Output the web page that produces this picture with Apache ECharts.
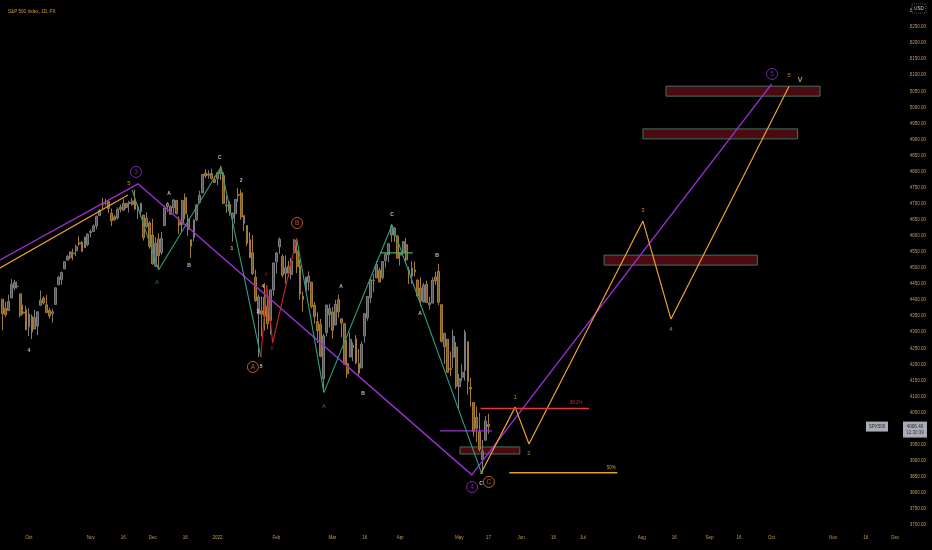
<!DOCTYPE html>
<html><head><meta charset="utf-8">
<script src="https://cdn.jsdelivr.net/npm/echarts@6/dist/echarts.min.js"></script>
<style>html,body{margin:0;padding:0;background:#000}#c{width:932px;height:550px}</style>
</head><body><div id="c"></div>
<script>
// Daily bars from Sep 20, 2021 to May 16, 2022: [open, high, low, close]
const ohlc = [
[4402.95,4402.95,4305.91,4357.73],[4374.45,4394.87,4347.96,4354.19],[4367.43,4416.75,4367.43,4395.64],[4406.75,4465.40,4406.75,4448.98],[4438.04,4463.12,4430.27,4455.48],
[4442.12,4457.30,4436.19,4443.11],[4419.54,4419.54,4346.33,4352.63],[4362.41,4385.57,4355.08,4359.46],[4370.67,4382.55,4306.24,4307.54],[4317.16,4375.19,4288.52,4357.04],
[4348.84,4355.51,4278.94,4300.46],[4309.87,4369.23,4309.87,4345.72],[4319.57,4365.57,4290.49,4363.55],[4383.73,4429.97,4383.73,4399.76],[4406.51,4412.02,4386.22,4391.34],
[4385.44,4415.88,4360.59,4361.19],[4368.31,4374.89,4342.09,4350.65],[4358.01,4372.87,4329.92,4363.80],[4386.75,4439.73,4386.75,4438.26],[4447.69,4475.82,4447.69,4471.37],
[4463.72,4488.75,4447.47,4486.46],[4497.34,4520.40,4496.41,4519.63],[4524.42,4540.87,4524.40,4536.19],[4532.24,4551.44,4526.89,4549.78],[4546.12,4559.67,4524.00,4544.90],
[4553.69,4572.62,4537.36,4566.48],[4578.69,4598.53,4569.17,4574.79],[4580.22,4584.57,4551.66,4551.68],[4562.84,4597.55,4562.84,4596.42],[4572.87,4608.08,4567.59,4605.38],
[4610.62,4620.34,4595.06,4613.67],[4613.34,4635.15,4613.34,4630.65],[4630.65,4663.46,4621.19,4660.57],[4662.93,4683.00,4662.59,4680.06],[4699.26,4718.50,4681.32,4697.53],
[4701.48,4714.92,4694.39,4701.70],[4707.25,4708.53,4670.87,4685.25],[4670.26,4684.85,4630.86,4646.71],[4659.39,4664.55,4648.31,4649.27],[4655.24,4688.47,4650.77,4682.85],
[4689.30,4697.42,4672.86,4682.80],[4679.42,4714.95,4679.42,4700.90],[4701.50,4701.50,4684.41,4688.67],[4700.72,4708.80,4672.78,4704.54],[4708.64,4717.75,4694.22,4697.96],
[4712.00,4743.83,4682.17,4682.94],[4678.48,4699.39,4652.66,4690.70],[4675.78,4702.87,4659.89,4701.46],[4664.63,4664.63,4585.43,4594.62],[4628.75,4672.95,4625.26,4655.27],
[4640.25,4646.02,4560.00,4567.00],[4602.82,4652.94,4510.27,4513.04],[4504.73,4595.46,4504.73,4577.10],[4589.49,4608.03,4495.12,4538.43],[4548.37,4612.60,4540.51,4591.67],
[4631.97,4694.04,4631.97,4686.75],[4690.86,4705.06,4674.52,4701.21],[4691.00,4695.26,4665.98,4667.45],[4687.64,4713.57,4670.24,4712.02],[4710.30,4710.30,4667.60,4668.97],
[4642.99,4660.47,4606.52,4634.09],[4636.46,4712.60,4611.22,4709.85],[4719.13,4731.99,4651.89,4668.67],[4652.50,4666.70,4600.22,4620.64],[4587.90,4587.90,4531.10,4568.02],
[4594.96,4651.14,4583.16,4649.23],[4650.36,4697.67,4645.53,4696.56],[4703.96,4740.74,4703.96,4725.79],[4733.99,4791.49,4733.99,4791.19],[4795.49,4807.02,4780.04,4786.35],
[4788.64,4804.06,4778.08,4793.06],[4794.23,4808.93,4775.33,4778.73],[4775.21,4786.83,4765.75,4766.18],[4778.14,4796.64,4758.17,4796.56],[4804.51,4818.62,4774.27,4793.54],
[4787.99,4797.70,4699.44,4700.58],[4693.39,4725.01,4671.26,4696.05],[4697.66,4707.95,4662.74,4677.03],[4655.34,4673.02,4582.24,4670.29],[4669.14,4714.13,4638.27,4713.07],
[4728.59,4748.83,4706.71,4726.35],[4733.56,4744.13,4650.29,4659.03],[4637.99,4665.13,4614.75,4662.85],[4632.24,4632.24,4568.70,4577.11],[4588.03,4611.55,4530.20,4532.76],
[4547.35,4602.11,4477.95,4482.73],[4471.38,4494.52,4395.34,4397.94],[4356.32,4417.35,4222.62,4410.13],[4366.64,4411.01,4287.11,4356.45],[4408.43,4453.23,4304.80,4349.93],
[4380.58,4428.74,4309.50,4326.51],[4336.19,4432.72,4292.46,4431.85],[4431.79,4516.89,4414.02,4515.55],[4519.57,4550.49,4483.53,4546.54],[4566.39,4595.31,4544.32,4589.38],
[4535.41,4542.88,4470.39,4477.44],[4482.79,4539.66,4451.50,4500.53],[4505.75,4521.86,4471.47,4483.87],[4480.02,4531.32,4465.40,4521.54],[4547.00,4590.03,4547.00,4587.18],
[4553.24,4588.92,4484.31,4504.08],[4506.27,4526.33,4401.41,4418.64],[4412.61,4426.22,4364.84,4401.67],[4429.28,4472.77,4429.28,4471.07],[4455.75,4489.55,4429.68,4475.01],
[4456.06,4456.06,4373.81,4380.26],[4384.57,4394.60,4327.22,4348.87],[4332.74,4362.12,4267.11,4304.76],[4324.93,4341.51,4221.51,4225.50],[4155.77,4294.73,4114.65,4288.70],
[4298.38,4385.34,4286.83,4384.65],[4354.17,4388.84,4315.12,4373.94],[4363.14,4378.45,4279.54,4306.26],[4322.56,4401.48,4322.56,4386.54],[4401.31,4416.78,4345.56,4363.49],
[4342.12,4342.12,4284.98,4328.87],[4327.01,4327.01,4199.85,4201.09],[4202.66,4276.94,4157.87,4170.70],[4223.10,4299.40,4223.10,4277.88],[4252.55,4268.28,4209.80,4259.52],
[4279.50,4291.01,4200.49,4204.31],[4202.75,4247.57,4161.72,4173.11],[4188.82,4271.05,4187.90,4262.45],[4288.14,4357.86,4267.92,4357.86],[4345.11,4412.67,4335.65,4411.67],
[4407.34,4465.40,4390.57,4463.12],[4462.40,4481.75,4424.30,4461.18],[4469.10,4522.00,4469.10,4511.61],[4493.10,4501.07,4455.81,4456.24],[4469.98,4520.58,4465.17,4520.16],
[4522.91,4546.03,4501.07,4543.06],[4541.09,4575.65,4517.69,4575.52],[4602.86,4637.30,4581.18,4631.60],[4624.20,4627.77,4581.32,4602.45],[4599.02,4603.07,4530.41,4530.41],
[4540.32,4548.70,4507.57,4545.86],[4547.97,4583.50,4539.21,4582.64],[4572.45,4593.45,4514.17,4525.12],[4494.17,4503.94,4450.04,4481.15],[4474.65,4521.16,4450.30,4500.21],
[4494.15,4520.41,4474.60,4488.28],[4462.64,4464.35,4408.38,4412.53],[4437.59,4471.00,4381.34,4397.45],[4394.30,4453.92,4392.70,4446.59],[4449.12,4460.46,4390.77,4392.59],
[4385.63,4410.31,4370.30,4391.69],[4390.63,4471.03,4390.63,4462.21],[4472.26,4488.29,4448.76,4459.45],[4489.17,4512.94,4384.47,4393.66],[4385.83,4385.83,4267.62,4271.78],
[4255.34,4299.02,4200.82,4296.12],[4278.14,4278.14,4175.04,4175.20],[4186.52,4240.71,4162.90,4183.96],[4222.58,4308.45,4188.63,4287.50],[4253.75,4269.68,4124.28,4131.93],
[4130.61,4169.81,4062.51,4155.38],[4159.78,4200.10,4147.08,4175.48],[4181.18,4307.66,4148.91,4300.17],[4270.43,4270.43,4106.01,4146.87],[4128.17,4157.69,4067.91,4123.34],
[4081.27,4081.27,3975.48,3991.24],[4035.18,4068.82,3958.17,4001.05],[3990.08,4049.09,3928.82,3935.18],[3903.95,3964.80,3858.87,3930.08],[3963.90,4038.88,3963.90,4023.89],
[4013.02,4046.46,3983.99,4006.40]
];
const slotCount = 316; // trading-day slots from Sep 20, 2021 to end of Dec 2022
const xLabelIdx  = [9,30,41,51,62,73,93,112,123,135,155,165,176,187,197,217,228,240,250,261,282,293,303];
const xLabelText = ['Oct','Nov','16','Dec','16','2022','Feb','Mar','16','Apr','May','17','Jun','16','Jul','Aug','16','Sep','16','Oct','Nov','16','Dec'];
const yMin = 3700, yMax = 5300, yStep = 50;

// Wave drawings: [bar position, price]
const purpleWave   = [[-0.84,4525],[46.0,4762],[159.3,3856],[261.1,5073]];
const purpleLevel  = [[148.5,3993],[166.2,3993]];
const orangeLeft   = [[-0.84,4500],[42.6,4727]];
const orangeWave   = [[162.3,3859],[174.0,4067],[178.7,3952],[217.4,4646],[226.9,4341],[267.0,5066]];
const tealWave1    = [[44.0,4743],[53.0,4494],[74.2,4815],[87.7,4223]];
const tealWave2    = [[99.9,4590],[109.1,4112],[132.2,4634],[162.7,3859]];
const redWave      = [[87.7,4223],[89.7,4447],[91.7,4267],[99.9,4593]];
const greenLevel   = [[128.2,4547],[139.3,4547]];
const fib382       = [[162.3,4063],[199.1,4063]];
const fib50        = [[172.0,3863],[208.7,3863]];
// Zones: [from bar, to bar, top price, bottom price]
const zones = [[225.2,277.5,5066,5035],[217.4,269.9,4933,4902],[204.2,256.2,4540,4509],[155.3,175.6,3943,3921]];

// Labels: [bar position, price, text]
const whiteLabels = [[9.0,4242,'4'],[56.5,4733,'A'],[63.3,4506,'B'],[73.8,4845,'C'],[81.0,4771,'2'],[77.9,4559,'1'],
  [86.7,4363,'3'],[88.4,4441,'4'],[87.8,4192,'5'],[114.9,4441,'A'],[122.4,4108,'B'],[132.2,4665,'C'],
  [147.5,4537,'B'],[141.7,4357,'A'],[162.4,3828,'C']];
const tealLabels = [[52.5,4456,'A'],[109.1,4070,'A']];
const redLabels = [[89.5,4478,'A'],[91.5,4248,'B']];
const orangeCircled = [[85.0,4192,'A'],[100.0,4640,'B'],[165.1,3834,'C']];
const purpleCircled = [[45.3,4799,'3'],[159.4,3818,'4'],[261.2,5104,'5']];
const orangeWaveLabels = [[42.9,4762,'5'],[174.0,4098,'1'],[178.7,3924,'2'],[217.4,4681,'3'],[226.9,4310,'4'],[267.0,5101,'5']];
const yellowLabels = [[270.7,5085,'V']];
const fibRedLabels = [[194.7,4080,'38.2%']];
const fibGoldLabels = [[206.6,3877,'50%']];

const slots = Array.from({length: slotCount}, (_, i) => String(i));
const labelMap = new Map(xLabelIdx.map((k, j) => [k, xLabelText[j]]));
const FONT = 'Liberation Sans, Arial, sans-serif';
const AXC = '#c99b4e';
const PURPLE = '#9a2fd0';

function line(data, color, width) {
  return { type: 'line', xAxisIndex: 1, data, symbol: 'none', silent: true, animation: false,
    lineStyle: { color, width: width || 1.2 }, z: 3 };
}
function labels(data, color, size, bold) {
  return { type: 'scatter', xAxisIndex: 1, data, symbol: 'circle', symbolSize: 1, silent: true, animation: false,
    itemStyle: { color: 'rgba(0,0,0,0)' }, z: 5,
    label: { show: true, position: 'inside', formatter: p => p.value[2], color: color, fontSize: size || 5,
      fontWeight: bold ? 'bold' : 'normal', fontFamily: FONT } };
}
function circled(data, color) {
  return { type: 'scatter', xAxisIndex: 1, data, symbol: 'circle', symbolSize: 11, silent: true, animation: false,
    itemStyle: { color: 'rgba(0,0,0,0)', borderColor: color, borderWidth: 1 }, z: 5,
    label: { show: true, position: 'inside', formatter: p => p.value[2], color: color, fontSize: 6.5, fontFamily: FONT } };
}

const chart = echarts.init(document.getElementById('c'), null, { renderer: 'canvas' });
const purpleSeries = line(purpleWave, PURPLE, 1.4);
purpleSeries.markArea = { silent: true, z: 1,
  itemStyle: { color: '#4a0a10', borderColor: '#3f7462', borderWidth: 1 },
  data: zones.map(z => [{ xAxis: z[0], yAxis: z[2] }, { xAxis: z[1], yAxis: z[3] }]) };

chart.setOption({
  backgroundColor: '#000',
  animation: false,
  title: { text: 'S&P 500 Index, 1D, FX', left: 3, top: 4,
    textStyle: { color: '#d99b3c', fontSize: 4.6, fontWeight: 'normal', fontFamily: FONT } },
  grid: { left: 1, right: 0, top: 11, bottom: 25 },
  xAxis: [
    { type: 'category', data: slots, boundaryGap: true,
      axisLine: { show: false }, axisTick: { show: false }, splitLine: { show: false },
      axisLabel: { interval: (i) => labelMap.has(i), formatter: (v, i) => labelMap.get(i) || '',
        color: AXC, fontSize: 4.5, margin: 10, fontFamily: FONT } },
    { type: 'value', min: -0.5, max: slotCount - 0.5, show: false }
  ],
  yAxis: { type: 'value', position: 'right', min: yMin, max: yMax, interval: yStep,
    axisLine: { show: false }, axisTick: { show: false }, splitLine: { show: false },
    axisLabel: { inside: true, margin: 6, color: AXC, fontSize: 4.5, fontFamily: FONT,
      formatter: v => v.toFixed(2) } },
  series: [
    { type: 'candlestick', xAxisIndex: 0, barWidth: '80%', silent: true, animation: false, z: 2,
      data: ohlc.map(r => [r[0], r[3], r[2], r[1]]),
      itemStyle: { color: '#555555', color0: '#7a5a22', borderColor: '#7c7c7c', borderColor0: '#a57a33', borderWidth: 1 } },
    purpleSeries,
    line(purpleLevel, PURPLE, 1.2),
    line(orangeLeft, '#f0a030', 1.2),
    line(orangeWave, '#f0a030', 1.2),
    line(tealWave1, '#2f9e83', 1.1),
    line(tealWave2, '#2f9e83', 1.1),
    line(redWave, '#c62828', 1.1),
    line(greenLevel, '#4caf50', 1.3),
    line(fib382, '#e53935', 1.5),
    line(fib50, '#e0a020', 1.5),
    labels(whiteLabels, '#e8e8e8', 5, true),
    labels(tealLabels, '#2f9e83', 5.5),
    labels(redLabels, '#b71c1c', 5),
    circled(orangeCircled, '#ec6f2d'),
    circled(purpleCircled, PURPLE),
    labels(orangeWaveLabels, '#f0a030', 6),
    labels(yellowLabels, '#e8d84a', 7, true),
    labels(fibRedLabels, '#e53935', 4.5),
    labels(fibGoldLabels, '#e8c547', 4.5)
  ]
});

// price tag at the last close
const last = ohlc[ohlc.length - 1][3];
const py = chart.convertToPixel({ yAxisIndex: 0 }, last);
chart.setOption({ graphic: [
  { type: 'rect', shape: { x: 866, y: py - 5, width: 22, height: 10 }, style: { fill: '#a9abb5' }, z: 20 },
  { type: 'text', x: 877, y: py, style: { text: 'SPX500', fill: '#2b2b2b', fontSize: 4.5, fontFamily: FONT, align: 'center', verticalAlign: 'middle' }, z: 21 },
  { type: 'rect', shape: { x: 903, y: py - 5, width: 24, height: 16 }, style: { fill: '#a9abb5' }, z: 20 },
  { type: 'text', x: 915, y: py, style: { text: last.toFixed(2), fill: '#1e1e1e', fontSize: 4.5, fontFamily: FONT, align: 'center', verticalAlign: 'middle' }, z: 21 },
  { type: 'text', x: 915, y: py + 6, style: { text: '12:30:39', fill: '#3a3a3a', fontSize: 4.5, fontFamily: FONT, align: 'center', verticalAlign: 'middle' }, z: 21 },
  { type: 'rect', shape: { x: 912, y: 4, width: 14, height: 9 }, style: { fill: '#000', stroke: '#8a8a8a', lineWidth: 0.6, lineDash: [1, 1] }, z: 20 },
  { type: 'text', x: 919, y: 8.5, style: { text: 'USD', fill: '#cfcfcf', fontSize: 4.5, fontFamily: FONT, align: 'center', verticalAlign: 'middle' }, z: 21 }
] });
</script>
</body></html>
